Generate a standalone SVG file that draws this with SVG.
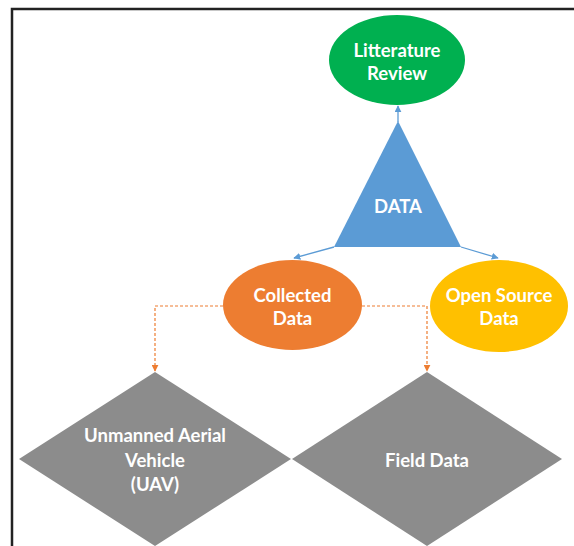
<svg xmlns="http://www.w3.org/2000/svg" width="574" height="546" viewBox="0 0 574 546">
<style>
.lbl{font-family:Lato,"Open Sans","Liberation Sans",sans-serif;font-weight:bold;font-size:18.5px;fill:#ffffff;text-anchor:middle;dominant-baseline:central}
.blue{stroke:#5B9BD5;stroke-width:1.3;fill:none}
.dash{stroke:#ED7D31;stroke-width:1.2;fill:none;stroke-dasharray:3 2}
</style>
<defs>
<marker id="ab" viewBox="0 0 10 10" refX="9" refY="5" markerWidth="7" markerHeight="7" markerUnits="userSpaceOnUse" orient="auto"><path d="M0,0 L10,5 L0,10 z" fill="#5B9BD5"/></marker>
<marker id="ao" viewBox="0 0 10 10" refX="9" refY="5" markerWidth="7" markerHeight="7" markerUnits="userSpaceOnUse" orient="auto"><path d="M0,0 L10,5 L0,10 z" fill="#ED7D31"/></marker>
</defs>
<rect width="574" height="546" fill="#ffffff"/>
<path d="M12,546 L12,9 L574,9" fill="none" stroke="#222222" stroke-width="2.5"/>
<g id="connectors">
<line class="blue" x1="398" y1="122" x2="398" y2="106" marker-end="url(#ab)"/>
<line class="blue" x1="334" y1="247" x2="294" y2="258" marker-end="url(#ab)"/>
<line class="blue" x1="461" y1="247" x2="498" y2="258" marker-end="url(#ab)"/>
<path class="dash" d="M223,306 L155,306 L155,371" marker-end="url(#ao)"/>
<path class="dash" d="M362,306 L427,306 L427,371" marker-end="url(#ao)"/>
</g>
<g id="literature-review">
<ellipse cx="397" cy="60" rx="68" ry="45" fill="#00B050"/>
<text class="lbl" x="397" y="50">Litterature</text>
<text class="lbl" x="397" y="73">Review</text>
</g>
<g id="data">
<polygon points="398,121 461,247 334,247" fill="#5B9BD5"/>
<text class="lbl" x="398" y="206">DATA</text>
</g>
<g id="collected-data">
<ellipse cx="292.5" cy="305" rx="69.5" ry="45" fill="#ED7D31"/>
<text class="lbl" x="292.5" y="295">Collected</text>
<text class="lbl" x="292.5" y="318">Data</text>
</g>
<g id="open-source-data">
<ellipse cx="499" cy="306" rx="69" ry="46" fill="#FFC000"/>
<text class="lbl" x="499" y="295">Open Source</text>
<text class="lbl" x="499" y="318">Data</text>
</g>
<g id="uav">
<polygon points="155,372 291,459 155,546 19,459" fill="#8C8C8C"/>
<text class="lbl" x="155" y="435">Unmanned Aerial</text>
<text class="lbl" x="155" y="460">Vehicle</text>
<text class="lbl" x="155" y="484">(UAV)</text>
</g>
<g id="field-data">
<polygon points="427,372 562,459 427,546 292,459" fill="#8C8C8C"/>
<text class="lbl" x="427" y="460">Field Data</text>
</g>
</svg>
